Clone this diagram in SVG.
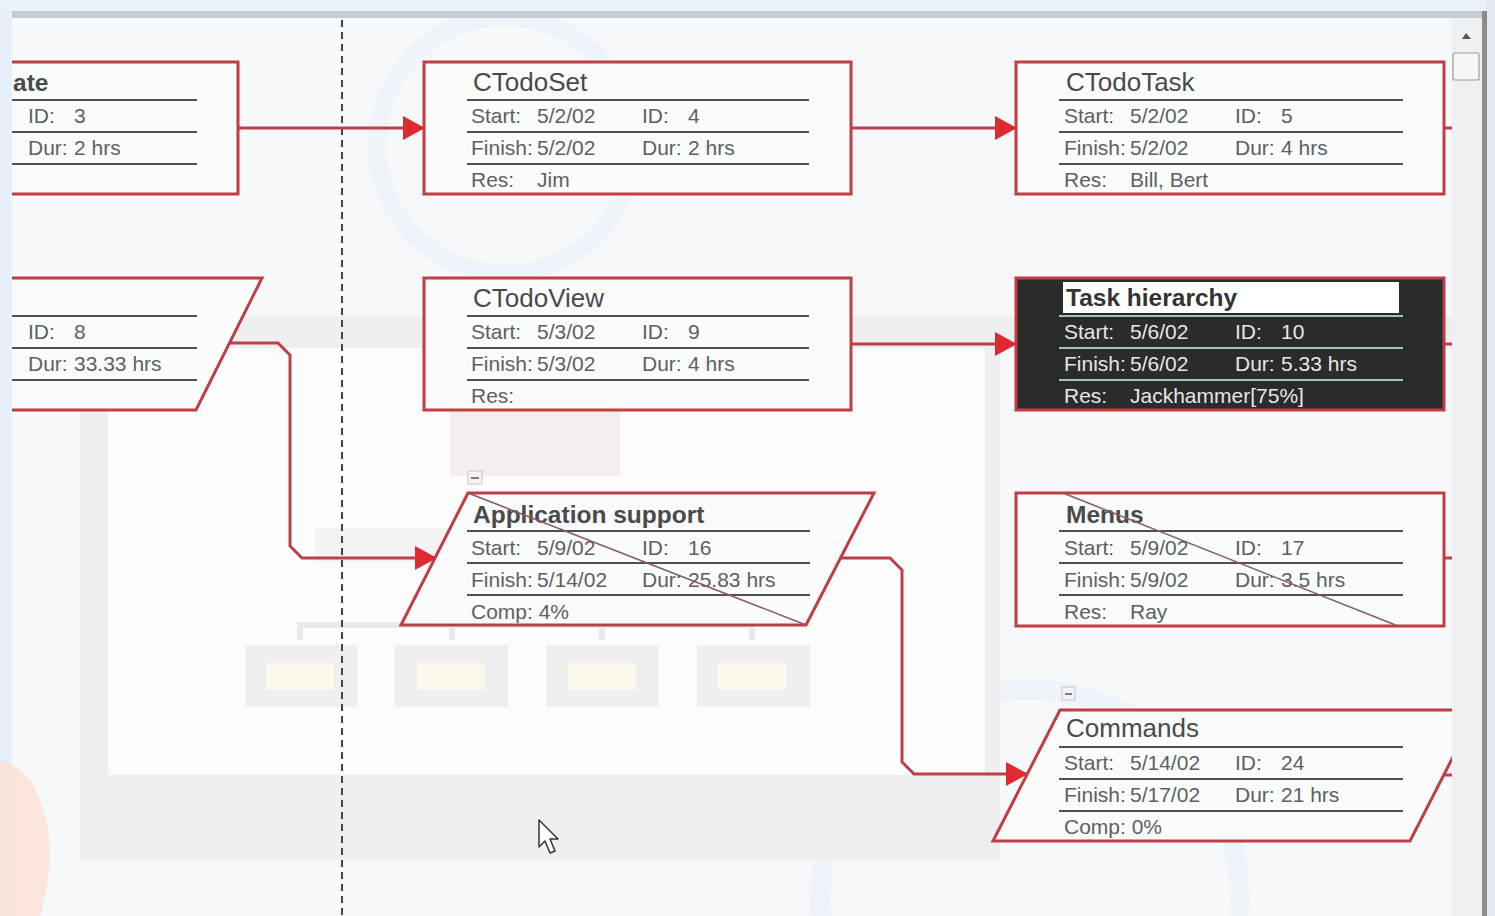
<svg xmlns="http://www.w3.org/2000/svg" width="1495" height="916" viewBox="0 0 1495 916">
<defs>
<style>
.box{fill:#fafbfb;stroke:#c03d46;stroke-width:3}
.dark{fill:#2b2b2b;stroke:#c03d46;stroke-width:3}
.sep{stroke:#505050;stroke-width:2}
.sepd{stroke:#9cc4bc;stroke-width:2}
.t{font-family:"Liberation Sans",Arial,sans-serif;font-size:26px;fill:#4a4a4a}
.tb{font-family:"Liberation Sans",Arial,sans-serif;font-size:24.5px;font-weight:bold;fill:#4a4a4a}
.f{font-family:"Liberation Sans",Arial,sans-serif;font-size:21px;fill:#606060}
.fw{font-family:"Liberation Sans",Arial,sans-serif;font-size:21px;fill:#e6e6e6}
.conn{fill:none;stroke:#bb4049;stroke-width:3}
.diag{stroke:#8a5a62;stroke-width:1.5}
.wm{fill:#efefef}
.col{fill:#f2f2f2;stroke:#c8c8c8;stroke-width:1}
</style>
<marker id="arr" markerUnits="userSpaceOnUse" markerWidth="22" markerHeight="24" refX="21" refY="12" orient="auto">
<path d="M0,0 L22,12 L0,24 Z" fill="#e02a33"/>
</marker>
</defs>

<!-- background -->
<rect x="0" y="0" width="1495" height="916" fill="#f7f8f9"/>
<g id="watermark">
<circle cx="505" cy="145" r="128" fill="none" stroke="#eef4fa" stroke-width="18"/>
<circle cx="1030" cy="900" r="210" fill="none" stroke="#eef4fa" stroke-width="20"/>
<rect x="12" y="316" width="1440" height="32" class="wm"/>
<rect x="80" y="348" width="920" height="512" class="wm"/>
<rect x="108" y="348" width="877" height="427" fill="#fcfcfc"/>
<rect x="450" y="388" width="170" height="88" fill="#f4eeee"/>
<rect x="315" y="528" width="440" height="34" fill="#f3f3f3"/>
<path d="M300,640 V625 H752 V640 M452,625 V640 M602,625 V640 M530,562 V625" fill="none" stroke="#eaeaea" stroke-width="6"/>
<g fill="#efefef">
<rect x="245" y="645" width="112" height="62"/>
<rect x="395" y="645" width="113" height="62"/>
<rect x="546" y="645" width="113" height="62"/>
<rect x="697" y="645" width="113" height="62"/>
</g>
<g fill="#fdf8ec">
<rect x="266" y="663" width="68" height="27"/>
<rect x="417" y="663" width="68" height="27"/>
<rect x="568" y="663" width="68" height="27"/>
<rect x="718" y="663" width="68" height="27"/>
</g>
</g>

<!-- dashed separator -->
<line x1="342" y1="20" x2="342" y2="916" stroke="#444" stroke-width="2" stroke-dasharray="7 5"/>

<g id="connectors">
<path class="conn" d="M238,128 H424" marker-end="url(#arr)"/>
<path class="conn" d="M851,128 H1016" marker-end="url(#arr)"/>
<path class="conn" d="M851,344 H1016" marker-end="url(#arr)"/>
<path class="conn" d="M230,343 H278 L290,355 V546 L302,558 H436" marker-end="url(#arr)"/>
<path class="conn" d="M841,558 H890 L902,570 V762 L914,774 H1027" marker-end="url(#arr)"/>
<path class="conn" d="M1444,128 H1452 M1444,344 H1452 M1444,558 H1452 M1444,775 H1452"/>
</g>

<g id="node-ate">
<rect class="box" x="-100" y="62" width="338" height="132"/>
<line class="sep" x1="0" y1="100" x2="197" y2="100"/>
<line class="sep" x1="0" y1="132" x2="197" y2="132"/>
<line class="sep" x1="0" y1="164" x2="197" y2="164"/>
<text class="tb" x="13" y="91">ate</text>
<text class="f" y="123"><tspan x="28">ID:</tspan><tspan x="74">3</tspan></text>
<text class="f" y="155"><tspan x="28">Dur:</tspan><tspan x="74">2 hrs</tspan></text>
</g>

<g id="node-ctodoset">
<rect class="box" x="424" y="62" width="427" height="132"/>
<line class="sep" x1="467" y1="100" x2="809" y2="100"/>
<line class="sep" x1="467" y1="132" x2="809" y2="132"/>
<line class="sep" x1="467" y1="164" x2="809" y2="164"/>
<text class="t" x="473" y="91">CTodoSet</text>
<text class="f" y="123"><tspan x="471">Start:</tspan><tspan x="537">5/2/02</tspan><tspan x="642">ID:</tspan><tspan x="688">4</tspan></text>
<text class="f" y="155"><tspan x="471">Finish:</tspan><tspan x="537">5/2/02</tspan><tspan x="642">Dur:</tspan><tspan x="688">2 hrs</tspan></text>
<text class="f" y="187"><tspan x="471">Res:</tspan><tspan x="537">Jim</tspan></text>
</g>

<g id="node-ctodotask">
<rect class="box" x="1016" y="62" width="428" height="132"/>
<line class="sep" x1="1059" y1="100" x2="1403" y2="100"/>
<line class="sep" x1="1059" y1="132" x2="1403" y2="132"/>
<line class="sep" x1="1059" y1="164" x2="1403" y2="164"/>
<text class="t" x="1066" y="91">CTodoTask</text>
<text class="f" y="123"><tspan x="1064">Start:</tspan><tspan x="1130">5/2/02</tspan><tspan x="1235">ID:</tspan><tspan x="1281">5</tspan></text>
<text class="f" y="155"><tspan x="1064">Finish:</tspan><tspan x="1130">5/2/02</tspan><tspan x="1235">Dur:</tspan><tspan x="1281">4 hrs</tspan></text>
<text class="f" y="187"><tspan x="1064">Res:</tspan><tspan x="1130">Bill, Bert</tspan></text>
</g>

<g id="node-id8">
<path class="box" d="M-200,278 H262 L196,410 H-200 Z"/>
<line class="sep" x1="0" y1="316" x2="197" y2="316"/>
<line class="sep" x1="0" y1="348" x2="197" y2="348"/>
<line class="sep" x1="0" y1="380" x2="197" y2="380"/>
<text class="f" y="339"><tspan x="28">ID:</tspan><tspan x="74">8</tspan></text>
<text class="f" y="371"><tspan x="28">Dur:</tspan><tspan x="74">33.33 hrs</tspan></text>
</g>

<g id="node-ctodoview">
<rect class="box" x="424" y="278" width="427" height="132"/>
<line class="sep" x1="467" y1="316" x2="809" y2="316"/>
<line class="sep" x1="467" y1="348" x2="809" y2="348"/>
<line class="sep" x1="467" y1="380" x2="809" y2="380"/>
<text class="t" x="473" y="307">CTodoView</text>
<text class="f" y="339"><tspan x="471">Start:</tspan><tspan x="537">5/3/02</tspan><tspan x="642">ID:</tspan><tspan x="688">9</tspan></text>
<text class="f" y="371"><tspan x="471">Finish:</tspan><tspan x="537">5/3/02</tspan><tspan x="642">Dur:</tspan><tspan x="688">4 hrs</tspan></text>
<text class="f" x="471" y="403">Res:</text>
</g>

<g id="node-taskhierarchy">
<rect class="dark" x="1016" y="278" width="428" height="132"/>
<rect x="1063" y="282" width="336" height="31" fill="#ffffff"/>
<line class="sepd" x1="1059" y1="316" x2="1403" y2="316"/>
<line class="sepd" x1="1059" y1="348" x2="1403" y2="348"/>
<line class="sepd" x1="1059" y1="380" x2="1403" y2="380"/>
<text class="tb" x="1066" y="306" style="fill:#333">Task hierarchy</text>
<text class="fw" y="339"><tspan x="1064">Start:</tspan><tspan x="1130">5/6/02</tspan><tspan x="1235">ID:</tspan><tspan x="1281">10</tspan></text>
<text class="fw" y="371"><tspan x="1064">Finish:</tspan><tspan x="1130">5/6/02</tspan><tspan x="1235">Dur:</tspan><tspan x="1281">5.33 hrs</tspan></text>
<text class="fw" y="403"><tspan x="1064">Res:</tspan><tspan x="1130">Jackhammer[75%]</tspan></text>
</g>

<g id="node-appsupport">
<rect class="col" x="468" y="471" width="14" height="13"/>
<line x1="471" y1="478" x2="479" y2="478" stroke="#555" stroke-width="1.5"/>
<path class="box" d="M468,493 H874 L806,625 H401 Z"/>
<line class="sep" x1="467" y1="531" x2="810" y2="531"/>
<line class="sep" x1="467" y1="563" x2="810" y2="563"/>
<line class="sep" x1="467" y1="595" x2="810" y2="595"/>
<text class="tb" x="473" y="523">Application support</text>
<text class="f" y="555"><tspan x="471">Start:</tspan><tspan x="537">5/9/02</tspan><tspan x="642">ID:</tspan><tspan x="688">16</tspan></text>
<text class="f" y="587"><tspan x="471">Finish:</tspan><tspan x="537">5/14/02</tspan><tspan x="642">Dur:</tspan><tspan x="688">25.83 hrs</tspan></text>
<text class="f" x="471" y="619">Comp: 4%</text>
<line class="diag" x1="468" y1="493" x2="806" y2="625"/>
</g>

<g id="node-menus">
<rect class="box" x="1016" y="493" width="428" height="133"/>
<line class="sep" x1="1059" y1="531" x2="1403" y2="531"/>
<line class="sep" x1="1059" y1="563" x2="1403" y2="563"/>
<line class="sep" x1="1059" y1="595" x2="1403" y2="595"/>
<text class="tb" x="1066" y="523">Menus</text>
<text class="f" y="555"><tspan x="1064">Start:</tspan><tspan x="1130">5/9/02</tspan><tspan x="1235">ID:</tspan><tspan x="1281">17</tspan></text>
<text class="f" y="587"><tspan x="1064">Finish:</tspan><tspan x="1130">5/9/02</tspan><tspan x="1235">Dur:</tspan><tspan x="1281">3.5 hrs</tspan></text>
<text class="f" y="619"><tspan x="1064">Res:</tspan><tspan x="1130">Ray</tspan></text>
<line class="diag" x1="1063" y1="493" x2="1398" y2="626"/>
</g>

<g id="node-commands">
<rect class="col" x="1062" y="687" width="13" height="13"/>
<line x1="1065" y1="694" x2="1072" y2="694" stroke="#555" stroke-width="1.5"/>
<path class="box" d="M1060,710 H1477 L1410,841 H993 Z"/>
<line class="sep" x1="1059" y1="747" x2="1403" y2="747"/>
<line class="sep" x1="1059" y1="779" x2="1403" y2="779"/>
<line class="sep" x1="1059" y1="811" x2="1403" y2="811"/>
<text class="t" x="1066" y="737">Commands</text>
<text class="f" y="770"><tspan x="1064">Start:</tspan><tspan x="1130">5/14/02</tspan><tspan x="1235">ID:</tspan><tspan x="1281">24</tspan></text>
<text class="f" y="802"><tspan x="1064">Finish:</tspan><tspan x="1130">5/17/02</tspan><tspan x="1235">Dur:</tspan><tspan x="1281">21 hrs</tspan></text>
<text class="f" x="1064" y="834">Comp: 0%</text>
</g>

<!-- cursor -->
<path d="M539,820 L539,847 L545,841 L550,853 L555,851 L550,839 L558,839 Z" fill="#fff" stroke="#333" stroke-width="1.5" stroke-linejoin="round"/>

<!-- window chrome -->
<rect x="0" y="0" width="12" height="916" fill="#e6eff8"/>
<path d="M0,760 Q30,770 40,800 Q60,850 40,916 H0 Z" fill="#fde3d6" opacity="0.85"/>
<rect x="0" y="0" width="1495" height="11" fill="#eaf1f8"/>
<rect x="12" y="11" width="1470" height="7" fill="#c3ccd3"/>
<rect x="1452" y="18" width="30" height="898" fill="#eef0f2"/>
<path d="M1462,39 L1466,33 L1471,39 Z" fill="#555"/>
<rect x="1453" y="53" width="26" height="27" rx="2" fill="#f6f6f6" stroke="#9a9a9a" stroke-width="1.2"/>
<rect x="1482" y="11" width="5" height="905" fill="#8c8c8c"/>
<rect x="1487" y="0" width="8" height="916" fill="#e2e9f1"/>
</svg>
